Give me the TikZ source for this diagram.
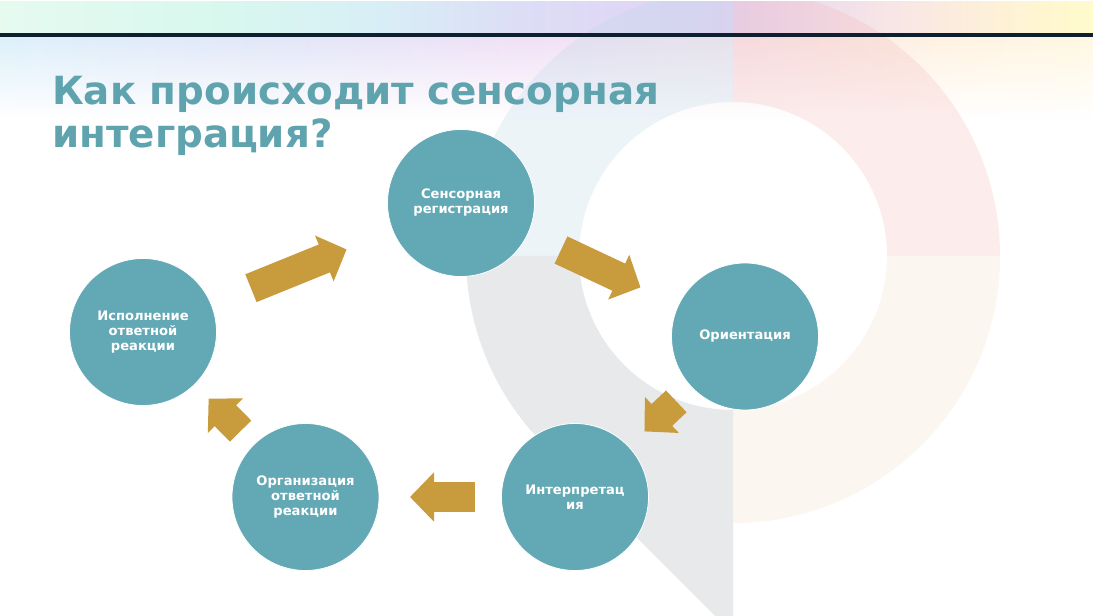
\documentclass[tikz,border=0pt]{standalone}
\usepackage{fontspec}
\setmainfont{DejaVu Sans}
\usetikzlibrary{arrows.meta}
\definecolor{tealfill}{HTML}{63A9B5}
\definecolor{titleteal}{HTML}{5FA3AE}
\definecolor{arrowgold}{HTML}{C89B3C}
\definecolor{linenavy}{HTML}{0E2030}
\definecolor{ringcream}{HTML}{FBF6F0}
\definecolor{ringgrey}{HTML}{E7E9EA}
\definecolor{ringblue}{HTML}{BBD8E8}
\definecolor{ringpink}{HTML}{F4B8B8}
\definecolor{upa}{HTML}{E6FAF0}
\definecolor{upb}{HTML}{D8F8EE}
\definecolor{upc}{HTML}{D8EFF6}
\definecolor{upd}{HTML}{DDDDF6}
\definecolor{upe}{HTML}{E2D2F2}
\definecolor{upf}{HTML}{F8E6E6}
\definecolor{upg}{HTML}{FFF4D2}
\definecolor{uph}{HTML}{FFFBCC}
\definecolor{lowa}{HTML}{DDF0FA}
\definecolor{lowb}{HTML}{E2E6F8}
\definecolor{lowc}{HTML}{F0E0F6}
\definecolor{lowd}{HTML}{F8E6EC}
\definecolor{lowe}{HTML}{FFF2E2}
\definecolor{lowf}{HTML}{FFF8E2}
\pgfdeclarehorizontalshading{bandupper}{100bp}{
  color(0bp)=(upa); color(25bp)=(upa); color(35bp)=(upb); color(42bp)=(upc);
  color(49bp)=(upd); color(58bp)=(upe); color(66bp)=(upf); color(72bp)=(upg); color(75bp)=(uph); color(100bp)=(uph)}
\pgfdeclarehorizontalshading{bandlower}{100bp}{
  color(0bp)=(lowa); color(25bp)=(lowa); color(38bp)=(lowb); color(49bp)=(lowc); color(59bp)=(lowd); color(68bp)=(lowe); color(75bp)=(lowf); color(100bp)=(lowf)}
\begin{document}
\begin{tikzpicture}[x=1pt,y=1pt]
	\useasboundingbox (0,0) rectangle (1093,616);
	\fill[white] (0,0) rectangle (1093,616);
	% pastel band
	\fill[shading=bandupper] (0,581) rectangle (1093,614);
	\fill[shading=bandlower] (0,581) rectangle (1093,495);
	\foreach \i [evaluate=\i as \op using \i/42] in {0,...,42}
		\fill[white, opacity=\op] (0,581-2*\i) rectangle ++(1093,-2);
	% big ring
	\begin{scope}
		\clip (0,0) rectangle (1093,614);
		\fill[ringblue, opacity=.27] (733,627) arc (90:180:267pt) -- (579,360) arc (180:90:154pt) -- cycle;
		\fill[ringpink, opacity=.26] (733,627) arc (90:0:267pt) -- (887,360) arc (0:90:154pt) -- cycle;
		\fill[ringcream] (1000,360) arc (0:-90:267pt) -- (733,206) arc (-90:0:154pt) -- cycle;
		\fill[ringgrey] (466,360) arc (180:225:267pt) -- (715,0) -- (733,0) -- (733,206) arc (270:180:154pt) -- cycle;
	\end{scope}
	\fill[linenavy] (0,579) rectangle (1093,583);
	\node[anchor=base west, inner sep=0, text=titleteal, font=\bfseries\fontsize{38.8}{43}\selectfont, align=left] (title) at (52,468) {Как происходит сенсорная\\интеграция?};
	\begin{scope}[every node/.style={fill=tealfill, draw=white, line width=.8pt, circle, minimum size=147pt, inner sep=0pt, outer sep=0pt, text=white, align=center, font=\bfseries\fontsize{13.1}{15}\selectfont}]
		\node (sensor) at (461,413) {Сенсорная\\регистрация};
		\node (orient) at (745,279.5) {Ориентация};
		\node (interp) at (575,119) {Интерпретац\\ия};
		\node (organiz) at (305.5,119) {Организация\\ответной\\реакции};
		\node (ispoln) at (143,284) {Исполнение\\ответной\\реакции};
	\end{scope}
	\begin{scope}[every edge/.style={draw=arrowgold, line width=30pt, -{Triangle[length=24pt,width=48pt]}}]
		\path (ispoln) edge[shorten <=43pt, shorten >=50pt] (sensor);
		\path (sensor) edge[shorten <=37pt, shorten >=42pt] (orient);
		\path (orient) edge[shorten <=21pt, shorten >=22pt] (interp);
		\path (interp) edge[shorten <=27pt, shorten >=31pt] (organiz);
		\path (organiz) edge[shorten <=19pt, shorten >=20pt] (ispoln);
	\end{scope}
\end{tikzpicture}
\end{document}
